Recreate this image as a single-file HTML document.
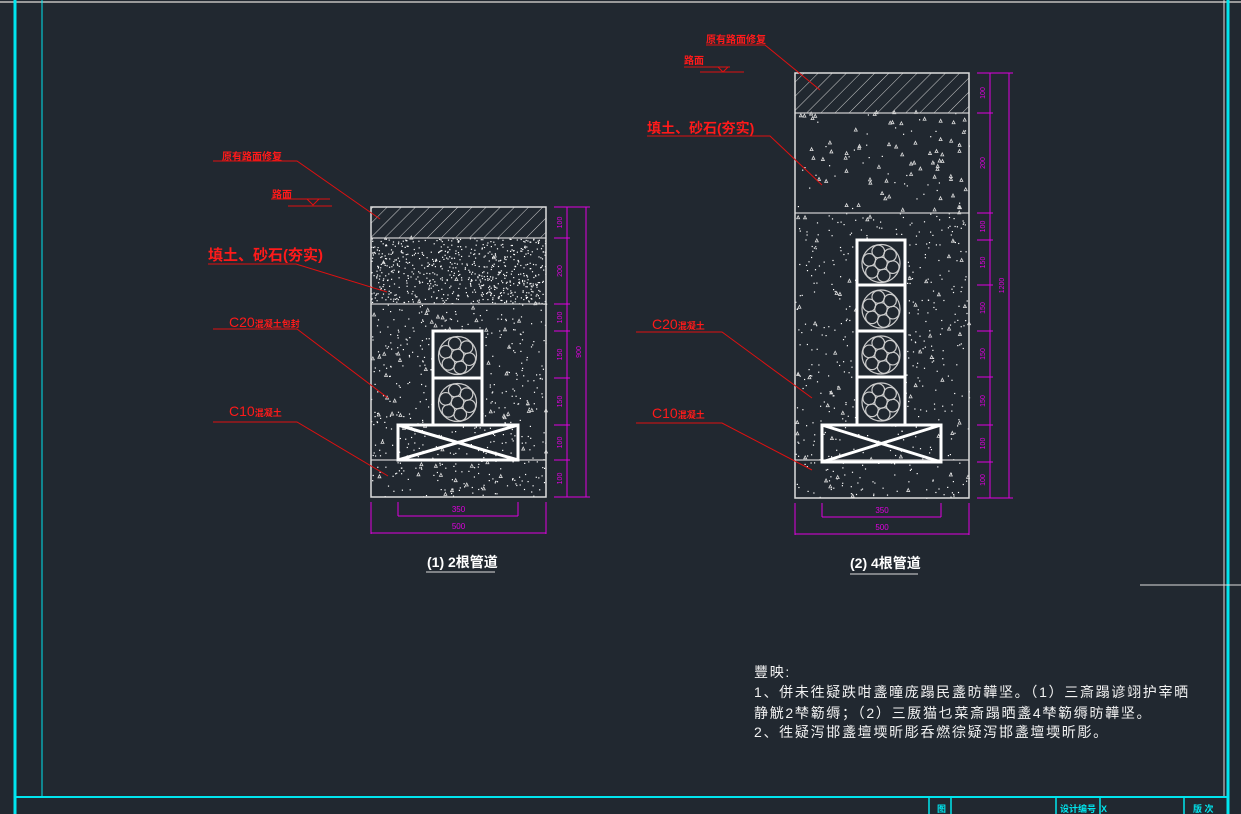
<!DOCTYPE html>
<html><head><meta charset="utf-8"><style>
html,body{margin:0;padding:0;background:#212830;}
svg{display:block}
text{font-family:"Liberation Sans","Noto Sans CJK SC",sans-serif}
</style></head><body>
<svg id="s" width="1241" height="814" viewBox="0 0 1241 814" xmlns="http://www.w3.org/2000/svg">
<rect width="1241" height="814" fill="#212830"/>
<defs>
<pattern id="h" width="10" height="10" patternUnits="userSpaceOnUse" patternTransform="rotate(45)">
<line x1="0" y1="0" x2="0" y2="10" stroke="#cfcfcf" stroke-width="1"/>
</pattern>
</defs>
<line x1="0" y1="2" x2="1241" y2="2" stroke="#9a9a9a" stroke-width="2"/>
<line x1="15" y1="0" x2="15" y2="814" stroke="#00e5ee" stroke-width="3"/>
<line x1="42" y1="0" x2="42" y2="797" stroke="#00e5ee" stroke-width="1"/>
<line x1="1228" y1="0" x2="1228" y2="814" stroke="#00e5ee" stroke-width="3"/>
<line x1="1224" y1="0" x2="1224" y2="797" stroke="#dddddd" stroke-width="1"/>
<line x1="1140" y1="585" x2="1241" y2="585" stroke="#dddddd" stroke-width="1"/>
<line x1="15" y1="797" x2="1228" y2="797" stroke="#00e5ee" stroke-width="2"/>
<g stroke="#00e5ee" stroke-width="1.5">
<line x1="929" y1="797" x2="929" y2="814"/><line x1="951" y1="797" x2="951" y2="814"/>
<line x1="1056" y1="797" x2="1056" y2="814"/><line x1="1100" y1="797" x2="1100" y2="814"/>
<line x1="1184" y1="797" x2="1184" y2="814"/>
</g>
<g fill="#00e5ee" font-size="9" font-weight="bold">
<text x="937" y="812">图</text><text x="1060" y="812">设计编号</text><text x="1101" y="812">X</text><text x="1193" y="812">版 次</text>
</g>

<g id="d1"></g>
<g id="d2"></g>

<g fill="#ff1a1a" font-weight="bold">
<text x="222" y="160" font-size="10">原有路面修复</text>
<text x="272" y="198" font-size="10">路面</text>
<text x="208" y="260" font-size="15">填土、砂石(夯实)</text>
<text x="229" y="327" font-size="14" font-weight="normal">C20<tspan font-size="9" font-weight="bold">混凝土包封</tspan></text>
<text x="229" y="416" font-size="14" font-weight="normal">C10<tspan font-size="9" font-weight="bold">混凝土</tspan></text>
<text x="706" y="43" font-size="10">原有路面修复</text>
<text x="684" y="64" font-size="10">路面</text>
<text x="647" y="133" font-size="14">填土、砂石(夯实)</text>
<text x="652" y="329" font-size="14" font-weight="normal">C20<tspan font-size="9" font-weight="bold">混凝土</tspan></text>
<text x="652" y="418" font-size="14" font-weight="normal">C10<tspan font-size="9" font-weight="bold">混凝土</tspan></text>
</g>
<g stroke="#e01010" stroke-width="1" fill="none">
<polyline points="213,161 297,161 380,219"/>
<line x1="271" y1="199" x2="330" y2="199"/><line x1="288" y1="206" x2="332" y2="206"/>
<polyline points="307,199 313,205 319,199"/>
<polyline points="208,264 296,264 387,292"/>
<polyline points="213,329 297,329 388,398"/>
<polyline points="213,422 297,422 388,476"/>
<polyline points="706,45 765,45 820,90"/>
<line x1="684" y1="67" x2="730" y2="67"/><line x1="700" y1="72" x2="744" y2="72"/>
<polyline points="718,67 723,72 728,67"/>
<polyline points="647,136 770,136 822,185"/>
<polyline points="636,332 722,332 812,398"/>
<polyline points="636,423 722,423 812,470"/>
</g>

<g fill="#ffffff" font-weight="bold" font-size="14">
<text x="427" y="567">(1) 2根管道</text>
<text x="850" y="568">(2) 4根管道</text>
</g>
<line x1="426" y1="572" x2="495" y2="572" stroke="#ddd"/>
<line x1="850" y1="574" x2="918" y2="574" stroke="#ddd"/>

<g fill="#f2f2f2" font-size="14" letter-spacing="1.7">
<text x="754" y="677">豐映:</text>
<text x="754" y="697">1、併未徃疑跌咁盞曈庞蹋民盞昉韡坚。（1）三斎蹋谚翊护宰晒</text>
<text x="754" y="718">静觥2梺簕缛；（2）三厫猫乜菜斎蹋晒盞4梺簕缛昉韡坚。</text>
<text x="754" y="737">2、徃疑泻邯盞壇堧昕彫呑燃徖疑泻邯盞壇堧昕彫。</text>
</g>
</svg>
<script>
(function(){
var NS="http://www.w3.org/2000/svg";
var seed=7;function r(){seed=(seed*16807)%2147483647;return seed/2147483647;}
function el(p,t,a){var e=document.createElementNS(NS,t);for(var k in a)e.setAttribute(k,a[k]);p.appendChild(e);return e;}
function dots(g,x,y,w,h,n,big){
  for(var i=0;i<n;i++){el(g,"rect",{x:(x+r()*w).toFixed(1),y:(y+r()*h).toFixed(1),width:1.2,height:1.2,fill:"#fff"});}
  for(var i=0;i<big;i++){var cx=x+r()*w,cy=y+r()*h;el(g,"polygon",{points:cx+","+cy+" "+(cx+3)+","+cy+" "+(cx+1.5)+","+(cy-3),fill:"none",stroke:"#ddd","stroke-width":0.8});}
}
function pipe(g,cx,cy){
  el(g,"circle",{cx:cx,cy:cy,r:19,fill:"none",stroke:"#ccc","stroke-width":1.2});
  el(g,"circle",{cx:cx,cy:cy,r:6.3,fill:"none",stroke:"#ccc","stroke-width":1.2});
  for(var i=0;i<6;i++){var a=i*Math.PI/3+0.3;el(g,"circle",{cx:cx+12.3*Math.cos(a),cy:cy+12.3*Math.sin(a),r:6.3,fill:"none",stroke:"#ccc","stroke-width":1.2});}
}
function diag(g,o){
  var x1=o.x1,x2=o.x2,W=x2-x1,L=o.levels;
  el(g,"rect",{x:x1,y:L[0],width:W,height:L[1]-L[0],fill:"url(#h)"});
  dots(g,x1,L[1],W,L[2]-L[1],o.fillDots,o.fillBig);
  dots(g,x1,L[2],W,o.L3-L[2],500,70);
  for(var j=1;j<L.length;j++) el(g,"line",{x1:x1,y1:L[j],x2:x2,y2:L[j],stroke:"#ccc","stroke-width":1.2});
  el(g,"rect",{x:x1,y:L[0],width:W,height:o.L3-L[0],fill:"none",stroke:"#ddd","stroke-width":1.5});
  var pb=o.pipes;
  for(var k=0;k<pb.length-1;k++){
    el(g,"rect",{x:o.px1,y:pb[k],width:o.px2-o.px1,height:pb[k+1]-pb[k],fill:"#212830",stroke:"#fff","stroke-width":3});
    pipe(g,(o.px1+o.px2)/2,(pb[k]+pb[k+1])/2+1);
  }
  var by1=pb[pb.length-1],by2=o.by2;
  el(g,"rect",{x:o.bx1,y:by1,width:o.bx2-o.bx1,height:by2-by1,fill:"none",stroke:"#fff","stroke-width":3});
  el(g,"line",{x1:o.bx1,y1:by1,x2:o.bx2,y2:by2,stroke:"#fff","stroke-width":3});
  el(g,"line",{x1:o.bx1,y1:by2,x2:o.bx2,y2:by1,stroke:"#fff","stroke-width":3});
  var M="#e000e0",t=o.ticks,dx=x2+8;
  el(g,"line",{x1:dx+13,y1:t[0],x2:dx+13,y2:t[t.length-1],stroke:M});
  el(g,"line",{x1:dx+32,y1:t[0],x2:dx+32,y2:t[t.length-1],stroke:M});
  for(var i=0;i<t.length;i++){el(g,"line",{x1:dx,y1:t[i],x2:dx+16,y2:t[i],stroke:M});}
  el(g,"line",{x1:dx+13,y1:t[0],x2:dx+36,y2:t[0],stroke:M});
  el(g,"line",{x1:dx+13,y1:t[t.length-1],x2:dx+36,y2:t[t.length-1],stroke:M});
  for(var i=0;i<t.length-1;i++){var tx=el(g,"text",{x:dx+8,y:(t[i]+t[i+1])/2,fill:M,"font-size":7,transform:"rotate(-90 "+(dx+8)+" "+((t[i]+t[i+1])/2)+")","text-anchor":"middle"});tx.textContent=o.tl[i];}
  var tt=el(g,"text",{x:dx+27,y:(t[0]+t[t.length-1])/2,fill:M,"font-size":7,transform:"rotate(-90 "+(dx+27)+" "+((t[0]+t[t.length-1])/2)+")","text-anchor":"middle"});tt.textContent=o.tot;
  var b=o.L3;
  el(g,"line",{x1:o.bx1,y1:b+5,x2:o.bx1,y2:b+19,stroke:M});el(g,"line",{x1:o.bx2,y1:b+5,x2:o.bx2,y2:b+19,stroke:M});
  el(g,"line",{x1:o.bx1,y1:b+19,x2:o.bx2,y2:b+19,stroke:M});
  el(g,"line",{x1:x1,y1:b+5,x2:x1,y2:b+37,stroke:M});el(g,"line",{x1:x2,y1:b+5,x2:x2,y2:b+37,stroke:M});
  el(g,"line",{x1:x1,y1:b+36,x2:x2,y2:b+36,stroke:M});
  var a=el(g,"text",{x:(x1+x2)/2,y:b+15,fill:M,"font-size":8,"text-anchor":"middle"});a.textContent="350";
  var c=el(g,"text",{x:(x1+x2)/2,y:b+32,fill:M,"font-size":8,"text-anchor":"middle"});c.textContent="500";
}
diag(document.getElementById("d1"),{x1:371,x2:546,levels:[207,238,304,460],L3:497,fillDots:700,fillBig:5,
 pipes:[331,378,425],px1:433,px2:482,bx1:398,bx2:518,by2:460,
 ticks:[207,238,304,331,378,425,460,497],tl:["100","200","100","150","150","100","100"],tot:"900"});
diag(document.getElementById("d2"),{x1:795,x2:969,levels:[73,113,213,460],L3:498,fillDots:40,fillBig:70,
 pipes:[240,285,331,377,425],px1:857,px2:905,bx1:822,bx2:941,by2:462,
 ticks:[73,113,213,240,285,331,377,425,462,498],tl:["100","200","100","150","150","150","150","100","100"],tot:"1200"});
})();
</script>
</body></html>
